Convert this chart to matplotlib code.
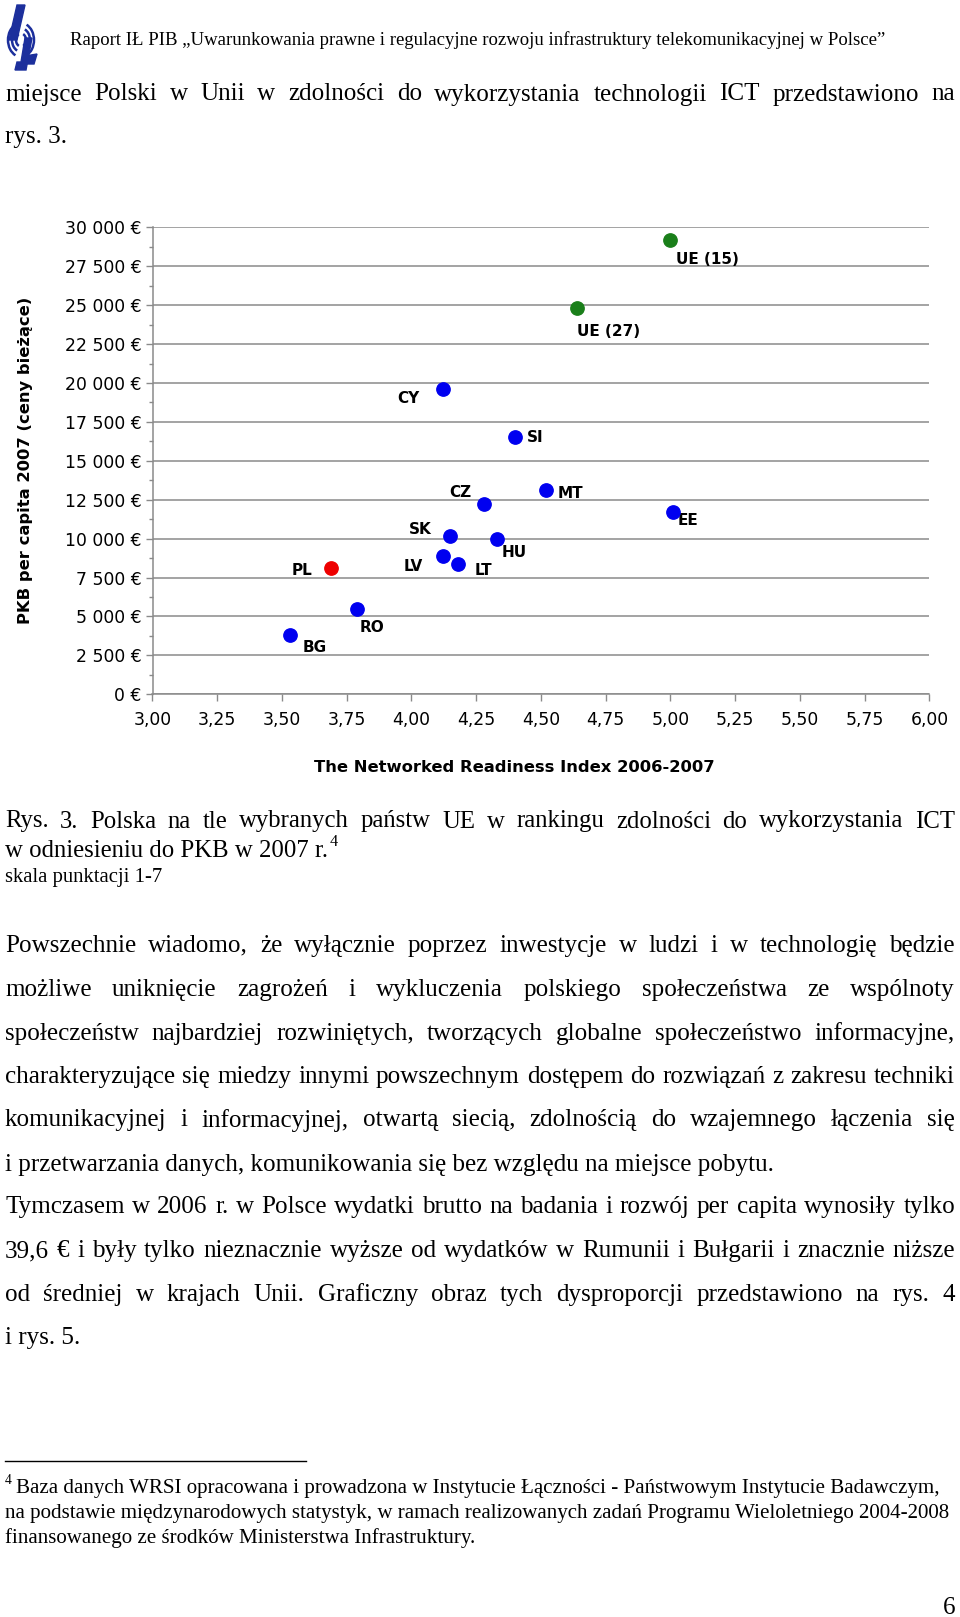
import matplotlib
matplotlib.use('Agg')
import matplotlib.pyplot as plt
from matplotlib.ticker import MultipleLocator, FuncFormatter
from matplotlib.patches import Polygon, Arc

# ---------------- data ----------------
countries = ['BG', 'RO', 'PL', 'LV', 'LT', 'SK', 'HU', 'CZ', 'MT', 'EE', 'CY', 'SI', 'UE (27)', 'UE (15)']
nri = [3.53, 3.79, 3.69, 4.12, 4.18, 4.15, 4.33, 4.28, 4.52, 5.01, 4.12, 4.40, 4.64, 5.00]
gdp = [3800, 5500, 8100, 8900, 8400, 10200, 10000, 12200, 13100, 11700, 19600, 16500, 24800, 29200]
group = ['other', 'other', 'pl', 'other', 'other', 'other', 'other', 'other', 'other', 'other',
         'other', 'other', 'eu', 'eu']
x_ticks = [3.00, 3.25, 3.50, 3.75, 4.00, 4.25, 4.50, 4.75, 5.00, 5.25, 5.50, 5.75, 6.00]
y_ticks = list(range(0, 30001, 2500))

# ---------------- style ----------------
group_color = {'other': '#0000f0', 'pl': '#ee0000', 'eu': '#1a7f1a'}
# label offsets in pixels (dx right, dy down) relative to each point
label_offset = {'BG': (25, 12), 'RO': (15, 19), 'PL': (-29, 2), 'LV': (-29, 11), 'LT': (25, 7),
                'SK': (-30, -6), 'HU': (17, 14), 'CZ': (-24, -12), 'MT': (24, 3), 'EE': (15, 8),
                'CY': (-34, 9), 'SI': (20, 0), 'UE (27)': (31, 23), 'UE (15)': (37, 20)}

W, H = 960, 1617
fig = plt.figure(figsize=(W / 100, H / 100), dpi=100)
fig.patch.set_facecolor('white')
renderer = fig.canvas.get_renderer()

SERIF = 'Liberation Serif'
SANS = 'DejaVu Sans'


def fx(x):
    return x / W


def fy(y):
    return 1 - y / H


def text_width(s, size, **kw):
    t = fig.text(0, 0, s, size=size, **kw)
    w = t.get_window_extent(renderer).width
    t.remove()
    return w


def fit(s, width, **kw):
    return 20 * width / text_width(s, 20, **kw)


def put(x, y, s, size, **kw):
    kw.setdefault('va', 'center_baseline')
    return fig.text(fx(x), fy(y), s, size=size, **kw)


def justify(y, line, x0, x1, size, **kw):
    words = line.split(' ')
    widths = [text_width(w, size, **kw) for w in words]
    gap = (x1 - x0 - sum(widths)) / (len(words) - 1)
    x = x0
    for w, wd in zip(words, widths):
        put(x, y, w, size, **kw)
        x += wd + gap


# ---------------- chart ----------------
left, right = 152.5, 929.5
top, bottom = 227.3, 694.3
ax = fig.add_axes([fx(left), fy(bottom), (right - left) / W, (bottom - top) / H])
ax.set_xlim(3.0, 6.0)
ax.set_ylim(0, 30000)
for xi, yi, c, g in zip(nri, gdp, countries, group):
    ax.plot(xi, yi, 'o', ms=9.6, color=group_color[g], mec=group_color[g], zorder=5, clip_on=False)
    dx, dy = label_offset[c]
    ax.annotate(c, (xi, yi), xytext=(dx * 0.72, -dy * 0.72), textcoords='offset points',
                ha='center', va='center', fontsize=11, fontweight='bold', family=SANS, color='black')

ax.set_xticks(x_ticks)
ax.set_yticks(y_ticks)
ax.yaxis.set_minor_locator(MultipleLocator(1250))
ax.xaxis.set_major_formatter(FuncFormatter(lambda v, p: f'{v:.2f}'.replace('.', ',')))
ax.yaxis.set_major_formatter(FuncFormatter(lambda v, p: f'{int(v):,}'.replace(',', ' ') + ' €'))
ax.grid(axis='y', color='#8a8a8a', lw=1.1)
ax.set_axisbelow(True)
for s in ['top', 'right']:
    ax.spines[s].set_visible(False)
for s in ['left', 'bottom']:
    ax.spines[s].set_color('#8a8a8a')
    ax.spines[s].set_linewidth(1.1)
ax.tick_params(axis='both', which='major', color='#8a8a8a', length=5, width=1, labelsize=12.4,
               labelcolor='black')
ax.tick_params(axis='y', which='major', pad=3)
ax.tick_params(axis='x', which='major', pad=7)
ax.tick_params(axis='y', which='minor', color='#8a8a8a', length=3, width=1)
for lab in ax.get_xticklabels() + ax.get_yticklabels():
    lab.set_family(SANS)

ylab = 'PKB per capita 2007 (ceny bieżące)'
put(25.8, 460, ylab, fit(ylab, 328, family=SANS, weight='bold'), family=SANS, weight='bold',
    rotation=90, ha='center', va='center')
xlab = 'The Networked Readiness Index 2006-2007'
put(514.5, 767, xlab, fit(xlab, 400, family=SANS, weight='bold'), family=SANS, weight='bold',
    ha='center', va='center')

# ---------------- logo ----------------
lax = fig.add_axes([fx(3), fy(74), 38 / W, 72 / H])
lax.set_xlim(0, 38)
lax.set_ylim(72, 0)
lax.axis('off')
blue = '#1c2f9c'
lax.add_patch(Polygon([[14, 3], [22, 3], [14, 38], [6, 38]], closed=True, color=blue))
lax.add_patch(Polygon([[22, 36], [29, 36], [23, 68], [12, 68], [14, 60], [18, 60]], closed=True, color=blue))
lax.add_patch(Polygon([[22, 54], [34, 52], [31, 62], [20, 62]], closed=True, color=blue))
for r in [5, 9, 13]:
    lax.add_patch(Arc((18, 38), 2 * r, 2.6 * r, theta1=110, theta2=250, color=blue, lw=1.8))
    lax.add_patch(Arc((18, 38), 2 * r, 2.6 * r, theta1=-70, theta2=70, color=blue, lw=1.8))

# ---------------- page text ----------------
hdr = 'Raport IŁ PIB „Uwarunkowania prawne i regulacyjne rozwoju infrastruktury telekomunikacyjnej w Polsce”'
put(70, 38, hdr, fit(hdr, 815, family=SERIF), family=SERIF)

ref_line = 'i przetwarzania danych, komunikowania się bez względu na miejsce pobytu.'
body = fit(ref_line, 770, family=SERIF)
X0, X1 = 5, 955

justify(92, 'miejsce Polski w Unii w zdolności do wykorzystania technologii ICT przedstawiono na',
        X0, X1, body, family=SERIF)
put(X0, 135, 'rys. 3.', body, family=SERIF)

cap2 = 'w odniesieniu do PKB w 2007 r.'
cap = fit(cap2, 323, family=SERIF)
justify(819, 'Rys. 3. Polska na tle wybranych państw UE w rankingu zdolności do wykorzystania ICT',
        X0, X1, cap, family=SERIF)
put(X0, 848, cap2, cap, family=SERIF)
put(330, 840, '4', cap * 0.65, family=SERIF)
skala = 'skala punktacji 1-7'
put(X0, 874.5, skala, fit(skala, 158, family=SERIF), family=SERIF)

para = [
    ('Powszechnie wiadomo, że wyłącznie poprzez inwestycje w ludzi i w technologię będzie', 943.4, True),
    ('możliwe uniknięcie zagrożeń i wykluczenia polskiego społeczeństwa ze wspólnoty', 987.8, True),
    ('społeczeństw najbardziej rozwiniętych, tworzących globalne społeczeństwo informacyjne,', 1031.1, True),
    ('charakteryzujące się miedzy innymi powszechnym dostępem do rozwiązań z zakresu techniki', 1074.4, True),
    ('komunikacyjnej i informacyjnej, otwartą siecią, zdolnością do wzajemnego łączenia się', 1117.7, True),
    (ref_line, 1162, False),
    ('Tymczasem w 2006 r. w Polsce wydatki brutto na badania i rozwój per capita wynosiły tylko', 1204.3, True),
    ('39,6 € i były tylko nieznacznie wyższe od wydatków w Rumunii i Bułgarii i znacznie niższe', 1248.6, True),
    ('od średniej w krajach Unii. Graficzny obraz tych dysproporcji przedstawiono na rys. 4', 1292, True),
    ('i rys. 5.', 1335.3, False),
]
for line, y, just in para:
    if just:
        justify(y, line, X0, X1, body, family=SERIF)
    else:
        put(X0, y, line, body, family=SERIF)

# footnote
fig.add_artist(plt.Line2D([fx(5), fx(306)], [fy(1461), fy(1461)], color='black', lw=1.0))
fn3 = 'finansowanego ze środków Ministerstwa Infrastruktury.'
fns = fit(fn3, 468, family=SERIF)
put(5, 1479, '4', fns * 0.65, family=SERIF)
put(16.5, 1486, 'Baza danych WRSI opracowana i prowadzona w Instytucie Łączności - Państwowym Instytucie Badawczym,',
    fns, family=SERIF)
put(5, 1510.5, 'na podstawie międzynarodowych statystyk, w ramach realizowanych zadań Programu Wieloletniego 2004-2008',
    fns, family=SERIF)
put(5, 1535.3, fn3, fns, family=SERIF)

put(955, 1605.5, '6', body, family=SERIF, ha='right')

fig.savefig('out.png', dpi=100, facecolor='white')
